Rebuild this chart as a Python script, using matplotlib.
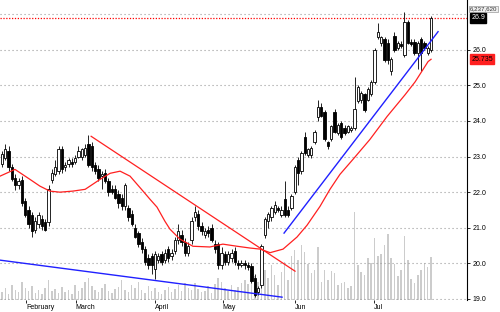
import matplotlib
matplotlib.use("Agg")
import matplotlib.pyplot as plt

# daily candles (index 0 = first visible bar)
opens = [22.78, 22.95, 23.15, 22.7, 22.4, 22.2, 22.35, 21.75, 21.5, 21.35,
         20.95, 21.1, 21.25, 21.15, 21.15, 22.35, 22.5, 22.6, 23.2, 22.7,
         22.8, 22.85, 22.85, 23.0, 23.0, 23.05, 23.35, 23.3, 22.75, 22.65,
         22.45, 22.55, 22.3, 22.1, 22.1, 21.95, 21.85, 21.6, 21.55, 21.4,
         21.0, 20.85, 20.6, 20.4, 20.15, 20.2, 19.85, 20.1, 20.25, 20.1,
         20.4, 20.2, 20.35, 20.65, 20.8, 20.6, 20.3, 20.65, 21.3, 21.4,
         21.05, 20.8, 20.95, 21.0, 20.55, 20.55, 19.95, 20.25, 20.05, 20.15,
         20.35, 20.0, 19.95, 20.0, 19.95, 19.92, 19.6, 19.2, 19.4, 20.8,
         21.2, 21.3, 21.45, 21.55, 21.35, 21.8, 21.5, 21.55, 22.0, 22.9,
         22.6, 23.55, 23.05, 23.05, 23.4, 24.1, 24.4, 24.25, 23.4, 23.5,
         24.25, 23.65, 23.95, 23.8, 23.7, 23.75, 23.8, 24.55, 24.6, 24.75,
         24.6, 24.75, 25.1, 26.35, 26.2, 26.3, 26.2, 25.4, 26.4, 26.06,
         26.15, 25.86, 26.79, 26.22, 26.22, 25.9, 26.3, 26.2, 25.9, 26.0]
highs = [23.15, 23.35, 23.3, 22.8, 22.5, 22.4, 22.45, 21.85, 21.6, 21.45,
         21.3, 21.45, 21.35, 21.25, 22.2, 22.65, 22.9, 23.3, 23.3, 22.85,
         22.95, 22.95, 23.05, 23.3, 23.25, 23.35, 23.6, 23.4, 22.85, 22.75,
         22.6, 22.65, 22.4, 22.2, 22.2, 22.05, 21.95, 22.25, 21.65, 21.5,
         21.1, 20.9, 20.7, 20.5, 20.25, 20.3, 20.35, 20.3, 20.35, 20.4,
         20.5, 20.4, 20.75, 21.1, 20.95, 20.7, 20.6, 21.3, 21.6, 21.5,
         21.15, 21.0, 21.05, 21.1, 20.65, 20.6, 20.45, 20.35, 20.35, 20.4,
         20.45, 20.1, 20.1, 20.1, 20.05, 20.0, 19.7, 19.35, 20.55, 21.3,
         21.45, 21.6, 21.75, 21.6, 21.6, 22.3, 21.6, 21.95, 22.75, 23.0,
         23.15, 23.7, 23.25, 23.3, 23.75, 24.6, 24.5, 24.3, 23.45, 23.9,
         24.35, 23.95, 24.0, 23.9, 23.9, 23.85, 25.25, 25.0, 24.85, 24.8,
         24.95, 25.15, 26.05, 26.75, 26.4, 26.35, 26.3, 25.8, 26.5, 26.25,
         26.25, 27.05, 26.85, 26.3, 26.3, 26.25, 26.35, 26.25, 26.1, 26.95]
lows = [22.7, 22.9, 22.6, 22.3, 22.05, 22.1, 21.6, 21.3, 21.0, 20.75,
        20.85, 21.0, 20.95, 20.9, 21.05, 22.25, 22.45, 22.5, 22.55, 22.6,
        22.7, 22.7, 22.8, 22.95, 22.9, 23.0, 22.7, 22.6, 22.5, 22.3,
        22.1, 22.25, 21.9, 21.95, 21.8, 21.55, 21.5, 21.5, 21.2, 21.05,
        20.7, 20.45, 20.3, 19.95, 19.85, 19.7, 19.55, 20.0, 19.95, 20.0,
        20.05, 20.1, 20.25, 20.55, 20.5, 20.2, 20.2, 20.55, 21.2, 20.95,
        20.8, 20.7, 20.75, 20.6, 20.3, 19.85, 19.85, 19.95, 19.95, 20.05,
        19.95, 19.85, 19.9, 19.85, 19.8, 19.45, 19.05, 19.1, 19.3, 20.7,
        21.0, 21.2, 21.4, 21.45, 21.3, 21.3, 21.3, 21.5, 21.95, 22.2,
        22.5, 23.05, 23.0, 22.95, 23.35, 24.0, 24.1, 23.45, 23.2, 23.45,
        23.65, 23.6, 23.5, 23.6, 23.65, 23.7, 23.75, 24.5, 24.5, 24.25,
        24.55, 24.7, 25.05, 26.3, 26.1, 25.65, 25.6, 25.3, 25.95, 26.0,
        26.05, 25.8, 26.15, 26.1, 25.85, 25.45, 25.4, 26.0, 25.85, 25.95]
closes = [23.06, 23.2, 22.7, 22.36, 22.2, 22.3, 21.7, 21.35, 21.1, 20.9,
          21.2, 21.35, 21.05, 20.95, 22.1, 22.55, 22.7, 23.2, 22.65, 22.75,
          22.9, 22.8, 22.95, 23.15, 23.2, 23.25, 22.75, 22.7, 22.6, 22.4,
          22.5, 22.3, 22.0, 22.0, 21.85, 21.7, 21.6, 22.2, 21.3, 21.1,
          20.75, 20.55, 20.4, 20.05, 19.95, 19.95, 20.25, 20.2, 20.05, 20.3,
          20.15, 20.3, 20.65, 20.9, 20.6, 20.3, 20.5, 21.2, 21.45, 21.05,
          20.9, 20.9, 20.85, 20.65, 20.4, 19.95, 20.3, 20.05, 20.25, 20.3,
          20.05, 19.95, 20.0, 19.95, 19.9, 19.5, 19.1, 19.3, 20.5, 21.25,
          21.4, 21.55, 21.65, 21.5, 21.5, 21.35, 21.35, 21.9, 22.7, 22.55,
          23.1, 23.1, 23.2, 23.25, 23.7, 24.4, 24.15, 23.5, 23.3, 23.85,
          23.7, 23.9, 23.55, 23.65, 23.85, 23.8, 24.35, 24.95, 24.8, 24.3,
          24.9, 25.1, 26.0, 26.5, 26.35, 25.72, 25.7, 25.75, 26.0, 26.2,
          26.1, 26.79, 26.2, 26.15, 25.9, 26.2, 25.9, 26.05, 26.05, 26.9]
# volume in millions of shares
volumes = [0.17, 0.25, 0.12, 0.31, 0.21, 0.17, 0.37, 0.25, 0.19, 0.29,
           0.15, 0.21, 0.12, 0.25, 0.42, 0.19, 0.23, 0.15, 0.27, 0.17,
           0.21, 0.12, 0.31, 0.19, 0.25, 0.37, 0.46, 0.29, 0.21, 0.17,
           0.25, 0.33, 0.19, 0.15, 0.23, 0.27, 0.42, 0.21, 0.17, 0.31,
           0.25, 0.37, 0.21, 0.15, 0.29, 0.19, 0.25, 0.17, 0.12, 0.21,
           0.27, 0.17, 0.23, 0.31, 0.19, 0.35, 0.25, 0.21, 0.35, 0.23,
           0.17, 0.19, 0.29, 0.15, 0.33, 0.46, 0.37, 0.25, 0.19, 0.31,
           0.21, 0.27, 0.35, 0.42, 0.33, 0.56, 0.50, 0.37, 0.79, 0.62,
           0.46, 0.73, 0.52, 0.31, 0.58, 0.79, 0.42, 0.92, 1.04, 0.83,
           1.14, 1.00, 0.75, 0.56, 0.62, 1.10, 0.37, 0.62, 0.42, 0.60,
           0.56, 0.31, 0.35, 0.37, 0.25, 0.29, 1.83, 0.73, 0.58, 0.52,
           0.87, 0.77, 1.29, 0.92, 0.96, 1.14, 1.37, 0.87, 0.75, 0.50,
           0.62, 1.33, 0.83, 0.44, 0.35, 0.52, 0.62, 0.77, 0.69, 0.89]
vol_max = 6.23762  # millions, top of volume scale

# moving average read at a few bar positions
ma_x = [-0.6, 3.9, 8.4, 11.4, 14.4, 17.4, 21.3, 25.0, 29.5, 32.5, 35.5, 38.5,
        42.4, 44.5, 46.6, 49.0, 50.5, 53.5, 57.4, 62.5, 66.4, 70.7, 74.6,
        77.6, 80.6, 84.5, 88.7, 91.7, 95.6, 98.6, 101.6, 105.5, 110.6,
        115.8, 121.2, 124.2, 128.1, 129.0]
ma_y = [22.45, 22.64, 22.36, 22.17, 22.03, 22.0, 22.03, 22.08, 22.36, 22.53,
        22.59, 22.45, 22.03, 21.8, 21.58, 21.18, 20.96, 20.68, 20.48, 20.46,
        20.54, 20.48, 20.43, 20.4, 20.3, 20.4, 20.74, 21.07, 21.6, 22.08,
        22.5, 22.92, 23.48, 24.13, 24.74, 25.1, 25.67, 25.735]

# trend lines (start/end bar, start/end price)
red_down = ([26.8, 88.1], [23.57, 19.78])
blue_support = ([-0.6, 84.2], [20.09, 19.05])
blue_up = ([84.8, 131.1], [20.85, 26.51])

month_pos = [7.2, 22.2, 46.0, 66.4, 88.1, 111.9]
month_labels = ["February", "March", "April", "May", "Jun", "Jul"]
price_ticks = [19, 20, 21, 22, 23, 24, 25, 26]
last_price = 26.9
ma_last = 25.735

plt.rcParams["font.family"] = ["Liberation Sans", "DejaVu Sans"]

fig = plt.figure(figsize=(5.0, 3.12), dpi=100)
pos = [0.0, 12 / 312, 467 / 500, 300 / 312]
xlim = (-0.6, 139.8)

# volume behind the price panel
axv = fig.add_axes(pos)
x = list(range(len(closes)))
axv.bar(x, volumes, width=0.45, color="#cccccc", linewidth=0)
axv.set_xlim(*xlim)
axv.set_ylim(0, vol_max)
axv.axis("off")

ax = fig.add_axes(pos)
ax.set_facecolor("none")
ax.set_xlim(*xlim)
ax.set_ylim(18.97, 27.4)

for g in price_ticks + [27]:
    ax.axhline(g, color="#9a9a9a", lw=0.8, ls=(0, (1, 2.6)), zorder=1)
ax.axhline(last_price, color="red", lw=0.9, ls=(0, (1, 1.3)), zorder=1)

# candles
ax.vlines(x, lows, highs, color="#222222", lw=0.7, zorder=3)
bottoms = [min(o, c) for o, c in zip(opens, closes)]
heights = [max(abs(c - o), 0.03) for o, c in zip(opens, closes)]
colors = ["white" if c >= o else "black" for o, c in zip(opens, closes)]
ax.bar(x, heights, bottom=bottoms, width=0.7, color=colors,
       edgecolor="black", linewidth=0.6, zorder=4)

ax.plot(ma_x, ma_y, color="#ff2020", lw=0.9, zorder=5)
ax.plot(*red_down, color="#ff2020", lw=0.9, zorder=5)
ax.plot(*blue_support, color="#2020ff", lw=1.0, zorder=5)
ax.plot(*blue_up, color="#2020ff", lw=1.0, zorder=5)

for s in ["left", "top", "bottom"]:
    ax.spines[s].set_visible(False)
ax.spines["right"].set_linewidth(0.8)

ax.yaxis.tick_right()
ax.set_yticks(price_ticks)
ax.set_yticklabels([f"{t:.1f}" for t in price_ticks])
ax.tick_params(axis="y", length=2, width=0.6, pad=2, labelsize=5)
ax.set_xticks(month_pos)
ax.set_xticklabels(month_labels, ha="left")
ax.tick_params(axis="x", length=2.5, width=0.6, pad=0.5, labelsize=5)

# right-hand value tags
ax.text(1.006, 27.15, "6,237,620", transform=ax.get_yaxis_transform(),
        fontsize=4.4, color="#333333", va="center", ha="left", clip_on=False,
        bbox=dict(boxstyle="square,pad=0.12", fc="#eeeeee", ec="#999999", lw=0.5))
ax.text(1.009, last_price, f"{last_price:.1f}", transform=ax.get_yaxis_transform(),
        fontsize=5, color="white", va="center", ha="left", clip_on=False,
        bbox=dict(boxstyle="square,pad=0.2", fc="black", ec="black"))
ax.text(1.009, ma_last, f"{ma_last:.3f}", transform=ax.get_yaxis_transform(),
        fontsize=5, color="black", va="center", ha="left", clip_on=False,
        bbox=dict(boxstyle="square,pad=0.2", fc="#ff2020", ec="#ff2020"))

fig.savefig("out.png", dpi=100)
